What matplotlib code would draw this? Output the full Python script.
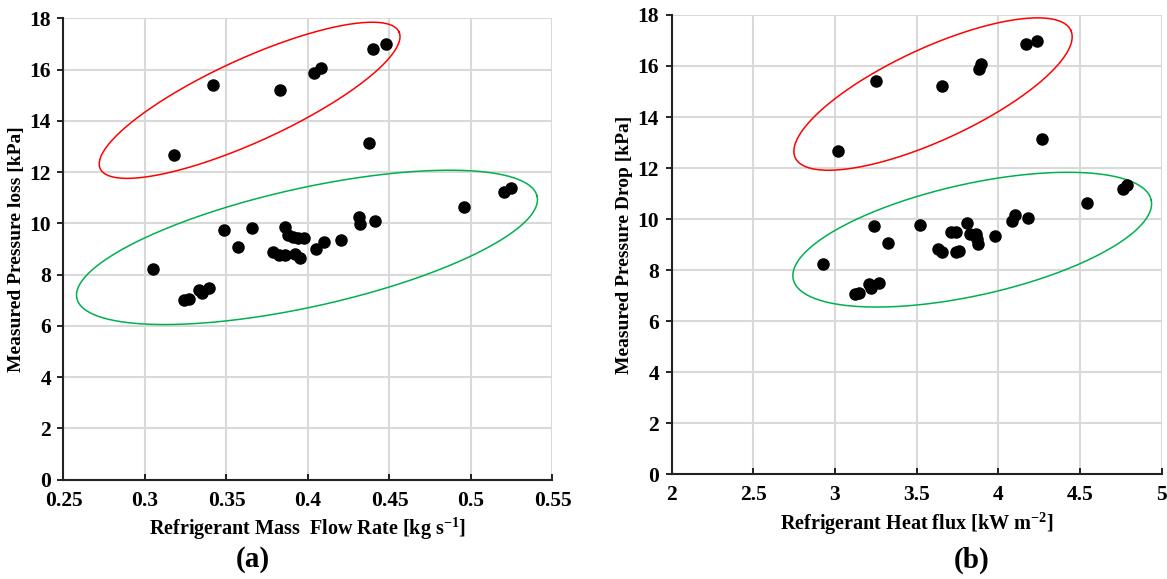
import numpy as np
import matplotlib
matplotlib.use('Agg')
import matplotlib.pyplot as plt

plt.rcParams['font.family'] = ['Liberation Serif', 'DejaVu Serif']
plt.rcParams['font.weight'] = 'bold'
plt.rcParams['mathtext.fontset'] = 'custom'
plt.rcParams['mathtext.rm'] = 'Liberation Serif:bold'
plt.rcParams['mathtext.bf'] = 'Liberation Serif:bold'
plt.rcParams['mathtext.default'] = 'rm'
plt.rcParams['axes.unicode_minus'] = False

# panel (a): pressure loss vs mass flow rate
mass_flow = [0.318, 0.342, 0.383, 0.404, 0.408, 0.440, 0.448, 0.4376,
             0.3051, 0.324, 0.327, 0.333, 0.335, 0.339,
             0.3482, 0.3659, 0.3573, 0.3858, 0.3876, 0.3907, 0.3937, 0.3978,
             0.3787, 0.3821, 0.3858, 0.3919, 0.3953, 0.4049, 0.4096, 0.4202,
             0.4316, 0.4321, 0.4411, 0.4955, 0.5205, 0.5244]
dp_a = [12.65, 15.40, 15.22, 15.88, 16.06, 16.82, 16.99, 13.12,
        8.21, 7.02, 7.05, 7.40, 7.27, 7.48,
        9.73, 9.81, 9.07, 9.87, 9.53, 9.47, 9.44, 9.44,
        8.87, 8.75, 8.75, 8.80, 8.63, 9.01, 9.27, 9.35,
        10.24, 9.97, 10.08, 10.64, 11.21, 11.37]

# panel (b): pressure drop vs heat flux
heat_flux = [3.018, 3.25, 3.654, 3.880, 3.894, 4.172, 4.236, 4.268,
             2.926, 3.120, 3.147, 3.207, 3.221, 3.271,
             3.238, 3.323, 3.52, 3.629, 3.655, 3.711, 3.741, 3.741, 3.761,
             3.811, 3.829, 3.861, 3.869, 3.875, 3.979, 4.081, 4.101, 4.183,
             4.544, 4.765, 4.785]
dp_b = [12.66, 15.40, 15.21, 15.87, 16.09, 16.85, 16.98, 13.12,
        8.22, 7.06, 7.09, 7.44, 7.28, 7.48,
        9.72, 9.05, 9.76, 8.82, 8.72, 9.50, 9.48, 8.69, 8.76,
        9.83, 9.41, 9.41, 9.22, 9.01, 9.35, 9.93, 10.16, 10.04,
        10.61, 11.17, 11.33]

xticks_a = [0.25, 0.3, 0.35, 0.4, 0.45, 0.5, 0.55]
xticks_b = [2, 2.5, 3, 3.5, 4, 4.5, 5]
yticks = [0, 2, 4, 6, 8, 10, 12, 14, 16, 18]

# ellipses: centre (data), semi axes (pixels), screen angle (deg)
ellipses_a = [((0.3642, 14.80), 164.3, 41.4, 24.6, '#FF0000'),
              ((0.3994, 9.06), 235.7, 59.3, 12.5, '#00B050')]
ellipses_b = [((3.600, 14.90), 151.8, 46.1, 24.8, '#FF0000'),
              ((3.840, 9.19), 183.3, 55.8, 12.5, '#00B050')]


def draw_ellipse(ax, centre, a, b, ang, color):
    t = np.linspace(0, 2 * np.pi, 400)
    th = np.deg2rad(ang)
    x0, y0 = ax.transData.transform(centre)
    px = x0 + a * np.cos(t) * np.cos(th) - b * np.sin(t) * np.sin(th)
    py = y0 + a * np.cos(t) * np.sin(th) + b * np.sin(t) * np.cos(th)
    pts = ax.transData.inverted().transform(np.column_stack([px, py]))
    ax.plot(pts[:, 0], pts[:, 1], color=color, lw=1.1, clip_on=False, zorder=4)


fig = plt.figure(figsize=(11.67, 5.79), dpi=100)
ax1 = fig.add_axes([0.0544, 0.1718, 0.4190, 0.7966])
ax2 = fig.add_axes([0.5755, 0.1813, 0.4200, 0.7928])

panels = [(ax1, mass_flow, dp_a, xticks_a, ['0.25', '0.3', '0.35', '0.4', '0.45', '0.5', '0.55'],
           'Refrigerant Mass  Flow Rate [kg s$^{-1}$]', 'Measured Pressure loss [kPa]',
           ellipses_a, '(a)', 0.217),
          (ax2, heat_flux, dp_b, xticks_b, ['2', '2.5', '3', '3.5', '4', '4.5', '5'],
           'Refrigerant Heat flux [kW m$^{-2}$]', 'Measured Pressure Drop [kPa]',
           ellipses_b, '(b)', 0.833)]

tick_font = {'fontsize': 15.5, 'fontweight': 'bold', 'family': 'Liberation Serif'}

for ax, xs, ys, xt, xtl, xlab, ylab, ells, tag, tag_x in panels:
    ax.set_xlim(xt[0], xt[-1])
    ax.set_ylim(0, 18)
    ax.set_xticks(xt)
    ax.set_xticklabels(xtl, fontdict=tick_font)
    ax.set_yticks(yticks)
    ax.set_yticklabels([str(v) for v in yticks], fontdict=tick_font)
    ax.grid(True, color='#D9D9D9', lw=1.5)
    ax.set_axisbelow(True)
    for s in ['top', 'right']:
        ax.spines[s].set_visible(False)
    for s in ['left', 'bottom']:
        ax.spines[s].set_linewidth(1.5)
        ax.spines[s].set_color('#222222')
    ax.tick_params(axis='x', direction='in', length=4, width=1.2, pad=8)
    ax.tick_params(axis='y', direction='out', length=4, width=1.2, pad=5)
    ax.scatter(xs, ys, s=64, color='black', zorder=5, clip_on=False)
    ax.set_xlabel(xlab, fontsize=14.5, fontweight='bold', labelpad=4)
    ax.set_ylabel(ylab, fontsize=14, fontweight='bold', labelpad=3)
    for centre, a, b, ang, col in ells:
        draw_ellipse(ax, centre, a, b, ang, col)
    fig.text(tag_x, 0.033, tag, ha='center', va='center',
             fontsize=21, fontweight='bold')

fig.savefig('out.png', dpi=100)
